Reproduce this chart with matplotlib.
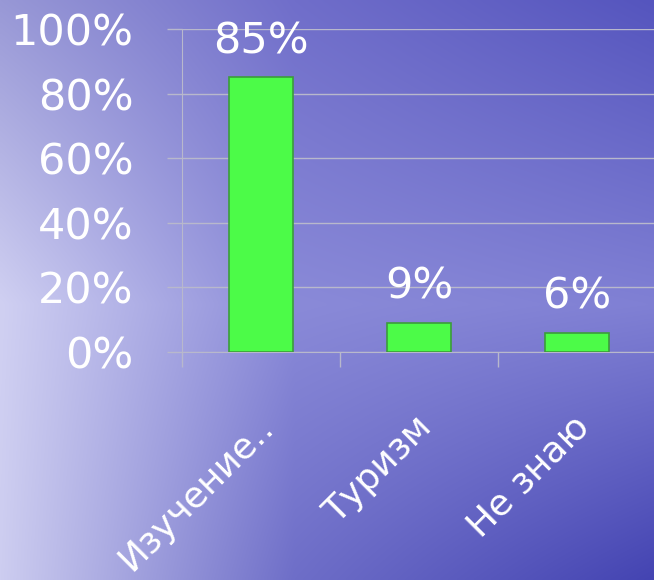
import numpy as np
import matplotlib
matplotlib.use("Agg")
import matplotlib.pyplot as plt
from matplotlib.transforms import offset_copy
from matplotlib.ticker import FixedLocator

categories = ["Изучение..", "Туризм", "Не знаю"]
values = [0.85, 0.09, 0.06]
value_labels = ["85%", "9%", "6%"]
yticks = [0, 0.2, 0.4, 0.6, 0.8, 1.0]
ytick_labels = ["0%", "20%", "40%", "60%", "80%", "100%"]

plt.rcParams['font.family'] = ['DejaVu Sans']

fig = plt.figure(figsize=(6.54, 5.8), dpi=100)

# background: blue/lavender sky gradient (left light, right dark)
bg = fig.add_axes([0, 0, 1, 1])
ctrl = np.array([
    [[152, 152, 214], [112, 110, 202], [85, 85, 190]],
    [[208, 208, 242], [138, 138, 216], [128, 128, 212]],
    [[205, 205, 240], [110, 110, 200], [68, 68, 178]],
], dtype=float) / 255.0
ny, nx = 290, 327
yy = np.linspace(0, 2, ny)
xx = np.linspace(0, 2, nx)
img = np.zeros((ny, nx, 3))
for c in range(3):
    rows = np.array([np.interp(xx, [0, 0.9, 2], ctrl[r, :, c]) for r in range(3)])
    for j in range(nx):
        img[:, j, c] = np.interp(yy, [0, 1.05, 2], rows[:, j])
bg.imshow(img, aspect='auto', extent=[0, 1, 0, 1], interpolation='bilinear')
bg.axis('off')

ax = fig.add_axes([182 / 654, 1 - 352 / 580, 474 / 654, 323 / 580])
ax.patch.set_alpha(0)
x = np.arange(len(categories))
ax.bar(x, values, width=0.4, color='#4cfb48', edgecolor='#3c9c3c', linewidth=1.2, zorder=3)

ax.set_xlim(-0.5, 2.5)
ax.set_ylim(0, 1)
grid_c = '#b8b8cc'
ax.set_yticks(yticks)
ax.set_yticklabels(ytick_labels)
ax.yaxis.grid(True, color=grid_c, linewidth=1)
ax.tick_params(axis='y', colors=grid_c, length=11, width=1, pad=24,
               labelcolor='white', labelsize=31)
ax.set_xticks([])
ax.xaxis.set_minor_locator(FixedLocator([-0.5, 0.5, 1.5]))
ax.tick_params(axis='x', which='minor', colors=grid_c, length=11, width=1)
for s in ['top', 'right']:
    ax.spines[s].set_visible(False)
ax.spines['left'].set_color(grid_c)
ax.spines['bottom'].set_color(grid_c)
ax.set_axisbelow(True)

for xi, v, lab in zip(x, values, value_labels):
    ax.annotate(lab, (xi, v), xytext=(0, 11), textcoords='offset points',
                ha='center', va='bottom', color='white', fontsize=31)

for xi, lab in zip(x, categories):
    tr = offset_copy(ax.get_xaxis_transform(), fig=fig, x=5, y=-50, units='points')
    ax.text(xi, 0, lab, transform=tr, rotation=45, rotation_mode='anchor',
            ha='right', va='center', color='white', fontsize=26)

fig.savefig("out.png", dpi=100)
